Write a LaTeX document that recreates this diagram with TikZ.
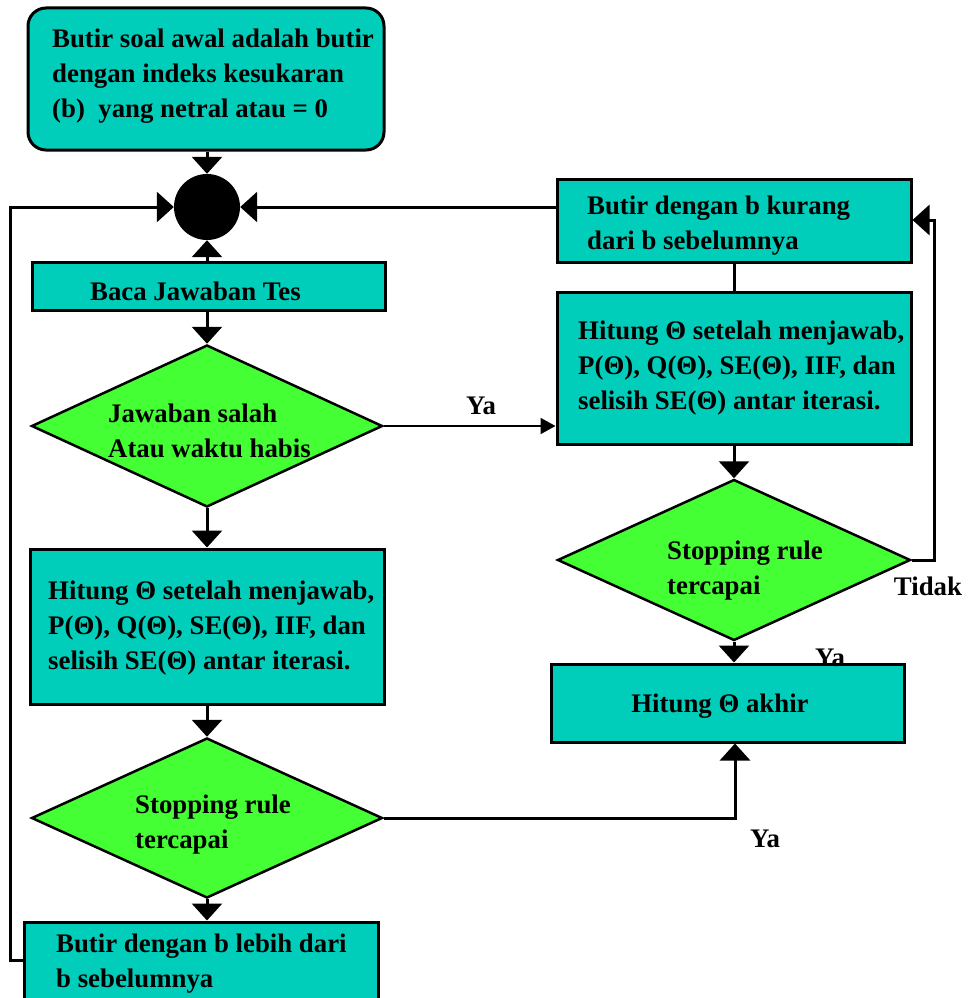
\documentclass[tikz,border=0pt]{standalone}
\usepackage{fontspec}
\setmainfont{Liberation Serif}
\usetikzlibrary{arrows.meta,shapes.geometric}
\definecolor{teal1}{RGB}{0,206,186}
\definecolor{lgreen}{RGB}{68,255,51}
\tikzset{
  x=1pt,y=-1pt,
  every node/.style={font=\bfseries\fontsize{26.8}{35}\selectfont},
  boxn/.style={draw=black,line width=3pt,fill=teal1,rectangle,inner sep=0pt},
  dia/.style={draw=black,line width=2.5pt,fill=lgreen,diamond,inner sep=0pt},
  conn/.style={line width=3pt},
  bigtip/.style={-{Triangle[width=30pt,length=17pt]}},
  smalltip/.style={-{Triangle[width=16pt,length=15pt]}},
  txt/.style={align=left,anchor=west,inner sep=0pt},
}
\newcommand{\bx}[5]{\node[boxn,minimum width=#3-#1,minimum height=#4-#2] (#5) at ({(#1+#3)/2},{(#2+#4)/2}) {};}
\begin{document}
\begin{tikzpicture}
\useasboundingbox (0,0) rectangle (968,998);
% top rounded box
\node[boxn,rounded corners=18pt,minimum width=356,minimum height=142] (top) at (206,79) {};
\node[txt] (ttop) at (52,76) {Butir soal awal adalah butir\\dengan indeks kesukaran\\(b)\ \ yang netral atau = 0};
% junction circle
\node[circle,fill=black,minimum size=66pt,inner sep=0pt] (jn) at (207,207) {};
% Baca box
\bx{32}{262}{385}{310}{baca}
\node[txt] (tbaca) at (90,291) {Baca Jawaban Tes};
% diamond 1
\node[dia,minimum width=351,minimum height=162] (d1) at (207,426) {};
\node[txt] (td1) at (108,431) {Jawaban salah\\Atau waktu habis};
% box 3
\bx{30}{549}{384}{704}{b3}
\node[txt] (tb3) at (48,628) {Hitung Θ setelah menjawab,\\P(Θ), Q(Θ), SE(Θ), IIF, dan\\selisih SE(Θ) antar iterasi.};
% diamond 2
\node[dia,minimum width=351,minimum height=160] (d2) at (207,818) {};
\node[txt] (td2) at (135,825) {Stopping rule\\tercapai};
% bottom box
\bx{24}{922}{378}{1010}{bb}
\node[txt] (tbb) at (56,964) {Butir dengan b lebih dari\\b sebelumnya};
% right column
\bx{557}{179}{911}{262}{r1}
\node[txt] (tr1) at (587,226) {Butir dengan b kurang\\dari b sebelumnya};
\bx{557}{292}{911}{444}{r2}
\node[txt] (tr2) at (578,368) {Hitung Θ setelah menjawab,\\P(Θ), Q(Θ), SE(Θ), IIF, dan\\selisih SE(Θ) antar iterasi.};
\node[dia,minimum width=353,minimum height=161] (dr) at (734,560) {};
\node[txt] (tdr) at (667,571) {Stopping rule\\tercapai};
\bx{551}{664}{904}{742}{ha}
\node (tha) at (720,706) {Hitung Θ akhir};
% labels
\node (ya1) at (481,406) {Ya};
\node (ya2) at (765,839) {Ya};
\node (ya3) at (830,658) {Ya};
\node (tidak) at (928,586) {Tidak};
% coordinates
\coordinate (lx) at (10,207);
\coordinate (lxb) at (10,960);
\coordinate (rx) at (934,560);
\coordinate (rxt) at (934,220);
\coordinate (d2r) at (735,818);
% connectors
\draw[conn,bigtip] (top.south -| jn.north) -- (jn.north);
\draw[conn,bigtip] (jn.south |- baca.north) -- (jn.south);
\draw[conn,bigtip] (r1.west |- jn) -- (jn.east);
\draw[conn,bigtip] (bb.west |- lxb) -- (lxb) -- (lx) -- (jn.west);
\draw[conn,bigtip] (d1.north |- baca.south) -- (d1.north);
\draw[conn,bigtip] (d1.south) -- (d1.south |- b3.north);
\draw[line width=2pt,smalltip] (d1.east) -- (r2.west |- d1.east);
\draw[conn,bigtip] (d2.north |- b3.south) -- (d2.north);
\draw[conn,bigtip] (d2.south) -- (d2.south |- bb.north);
\draw[conn,bigtip] (d2.east) -- (d2r) -- (ha.south -| d2r);
\draw[conn] (r1.south -| dr.north) -- (r2.north -| dr.north);
\draw[conn,bigtip] (r2.south -| dr.north) -- (dr.north);
\draw[conn,bigtip] (dr.east) -- (rx) -- (rxt) -- (r1.east |- rxt);
\draw[conn,bigtip] (dr.south) -- (ha.north -| dr.south);
\end{tikzpicture}
\end{document}
